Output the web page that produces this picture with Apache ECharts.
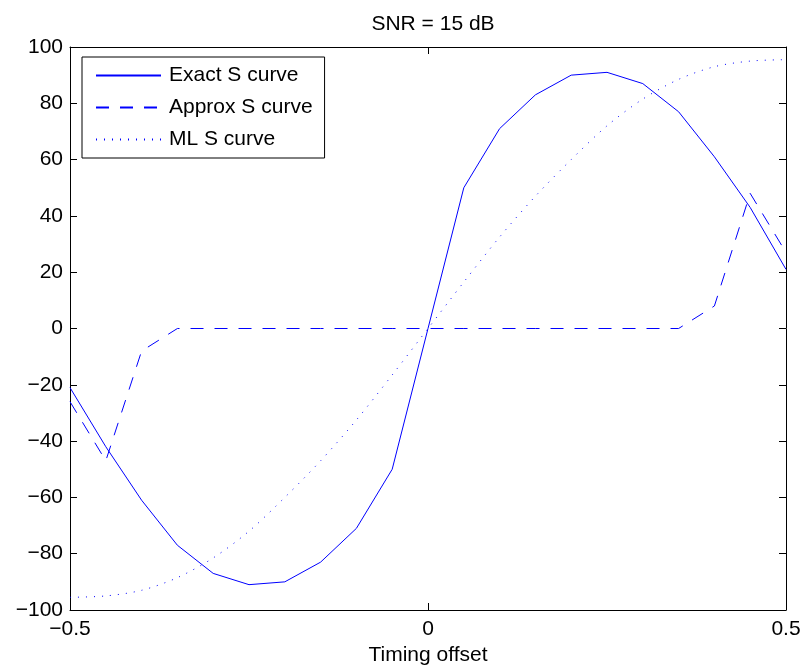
<!DOCTYPE html>
<html>
<head>
<meta charset="utf-8">
<title>SNR = 15 dB</title>
<script src="https://cdn.jsdelivr.net/npm/echarts@6/dist/echarts.min.js"></script>
<style>
  html, body { margin: 0; padding: 0; background: #fff; }
  #chart { width: 806px; height: 671px; }
</style>
</head>
<body>
<div id="chart"></div>
<script>
// timing offsets (step 0.05)
var offsets = [-0.5, -0.45, -0.4, -0.35, -0.3, -0.25, -0.2, -0.15, -0.1, -0.05, 0,
  0.05, 0.1, 0.15, 0.2, 0.25, 0.3, 0.35, 0.4, 0.45, 0.5];

// curves
var exactS = [-21, -42, -61, -77, -87, -91, -90, -83, -71, -50, 0,
  50, 71, 83, 90, 91, 87, 77, 61, 43, 21];
var approxS = [-26, -47, -8, 0, 0, 0, 0, 0, 0, 0, 0,
  0, 0, 0, 0, 0, 0, 0, 8, 48, 27];
var mlS = [-95.5, -95, -93, -88.5, -81.5, -72, -60, -47, -32.5, -16.5, 0,
  16.5, 32.5, 47, 60, 72, 81.5, 88.5, 93, 95, 95.5];

var seriesNames = ['Exact S curve', 'Approx S curve', 'ML S curve'];
var yTicks = { min: -100, max: 100, step: 20 };
var xTicks = { min: -0.5, max: 0.5, step: 0.5 };

var FONT = 'Liberation Sans, Arial, Helvetica, sans-serif';
var FS = 21;
var BLUE = '#0000ff';

function pairs(ys) {
  return offsets.map(function (x, i) { return [x, ys[i]]; });
}
function minus(v) {
  return String(v).replace('-', '\u2212');
}

var chart = echarts.init(document.getElementById('chart'));

var boxAxis = {
  axisLine: { show: true, onZero: false, lineStyle: { color: '#000', width: 1 } },
  axisTick: { show: true, inside: true, length: 7, lineStyle: { color: '#000' } },
  splitLine: { show: false }
};

var option = {
  animation: false,
  backgroundColor: '#fff',
  title: {
    text: 'SNR = 15 dB',
    left: 428,
    top: 9,
    textAlign: 'center',
    textStyle: { fontFamily: FONT, fontSize: FS, fontWeight: 'normal', color: '#000' }
  },
  legend: {
    data: seriesNames,
    orient: 'vertical',
    left: 82,
    top: 57,
    padding: [8, 12, 8, 13],
    itemWidth: 65,
    itemHeight: 21,
    itemGap: 11,
    borderColor: '#000',
    borderWidth: 1,
    backgroundColor: '#fff',
    itemStyle: { opacity: 0 },
    textStyle: { fontFamily: FONT, fontSize: FS, color: '#000', padding: [0, 0, 0, 3] }
  },
  grid: { left: 70, right: 20, top: 47, bottom: 61 },
  xAxis: [
    Object.assign({
      type: 'value',
      position: 'bottom',
      min: xTicks.min, max: xTicks.max, interval: xTicks.step,
      name: 'Timing offset',
      nameLocation: 'middle',
      nameGap: 34,
      nameTextStyle: { fontFamily: FONT, fontSize: FS, color: '#000' },
      axisLabel: { fontFamily: FONT, fontSize: FS, color: '#000', margin: 9, formatter: minus }
    }, boxAxis),
    Object.assign({
      type: 'value',
      position: 'top',
      min: xTicks.min, max: xTicks.max, interval: xTicks.step,
      axisLabel: { show: false }
    }, boxAxis)
  ],
  yAxis: [
    Object.assign({
      type: 'value',
      position: 'left',
      min: yTicks.min, max: yTicks.max, interval: yTicks.step,
      axisLabel: { fontFamily: FONT, fontSize: FS, color: '#000', margin: 7, formatter: minus }
    }, boxAxis),
    Object.assign({
      type: 'value',
      position: 'right',
      min: yTicks.min, max: yTicks.max, interval: yTicks.step,
      axisLabel: { show: false }
    }, boxAxis)
  ],
  series: [
    {
      name: seriesNames[0],
      type: 'line',
      data: pairs(exactS),
      symbol: 'none',
      lineStyle: { color: BLUE, width: 1, type: 'solid' },
      itemStyle: { color: BLUE }
    },
    {
      name: seriesNames[1],
      type: 'line',
      data: pairs(approxS),
      symbol: 'none',
      lineStyle: { color: BLUE, width: 1, type: [13, 11] },
      itemStyle: { color: BLUE }
    },
    {
      name: seriesNames[2],
      type: 'line',
      data: pairs(mlS),
      symbol: 'none',
      smooth: 0.3,
      lineStyle: { color: BLUE, width: 1, type: [1, 7] },
      itemStyle: { color: BLUE }
    }
  ]
};

chart.setOption(option);
</script>
</body>
</html>
